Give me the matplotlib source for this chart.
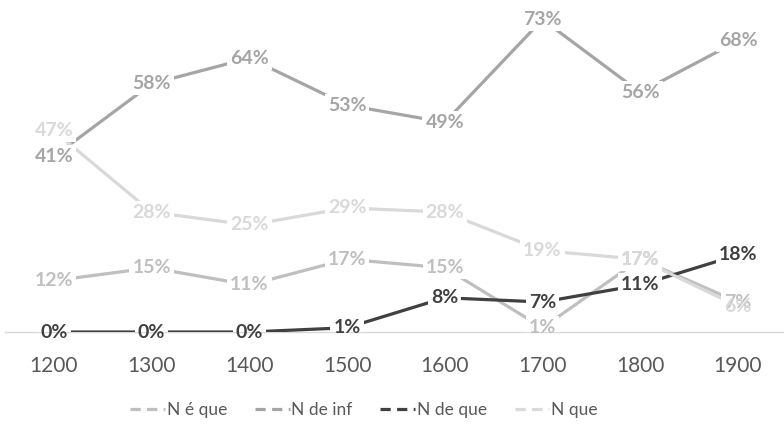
import matplotlib
matplotlib.use("Agg")
import matplotlib.pyplot as plt
from matplotlib.lines import Line2D
from matplotlib.patches import Rectangle

plt.rcParams['font.family'] = ['Lato', 'DejaVu Sans']

years = ["1200", "1300", "1400", "1500", "1600", "1700", "1800", "1900"]
series_names = ["N é que", "N de inf", "N de que", "N que"]
n_e_que = [12, 15, 11, 17, 15, 1, 17, 7]
n_de_inf = [41, 58, 64, 53, 49, 73, 56, 68]
n_de_que = [0, 0, 0, 1, 8, 7, 11, 18]
n_que = [47, 28, 25, 29, 28, 19, 17, 6]
colors = ["#bfbfbf", "#a5a5a5", "#404040", "#d9d9d9"]

all_series = [n_e_que, n_de_inf, n_de_que, n_que]
x = list(range(len(years)))

fig = plt.figure(figsize=(7.84, 4.25), dpi=100)
ax = fig.add_axes([5 / 784, 93 / 425, 779 / 784, 321 / 425])

for vals, col in zip(all_series, colors):
    ax.plot(x, vals, color=col, lw=2.3, zorder=3, solid_capstyle="butt")

ax.set_xlim(-0.5, (784 - 54) / 97.71)
ax.set_ylim(0, 75)

labels = []
for vals, col in zip(all_series, colors):
    for xi, v in zip(x, vals):
        t = ax.text(xi, v, f"{v}%", color=col, fontsize=14, fontweight="bold",
                    ha="center", va="center", zorder=5)
        labels.append(t)

ax.set_xticks(x)
ax.set_xticklabels(years, fontsize=15, color="#595959")
ax.tick_params(axis="x", length=0, pad=17)
ax.set_yticks([])
for side in ["top", "right", "left"]:
    ax.spines[side].set_visible(False)
ax.spines["bottom"].set_color("#d9d9d9")
ax.spines["bottom"].set_linewidth(1.0)

# white boxes behind the labels so the lines break around them
fig.canvas.draw()
inv = ax.transData.inverted()
for t in labels:
    bb = t.get_window_extent().expanded(1.0, 1.0).padded(3)
    (x0, y0), (x1, y1) = inv.transform([(bb.x0, bb.y0), (bb.x1, bb.y1)])
    ax.add_patch(Rectangle((x0, y0), x1 - x0, y1 - y0, facecolor="white",
                           edgecolor="none", zorder=4))

handles = [Line2D([0], [0], color=c, lw=2.3, dashes=(3.2, 2.0)) for c in colors]
fig.legend(handles, series_names, loc="center", bbox_to_anchor=(364 / 784, 15 / 425),
           ncol=4, frameon=False, fontsize=12.5, labelcolor="#595959",
           handlelength=2.0, handletextpad=0.1, columnspacing=1.6)

fig.savefig("out.png", dpi=100)
